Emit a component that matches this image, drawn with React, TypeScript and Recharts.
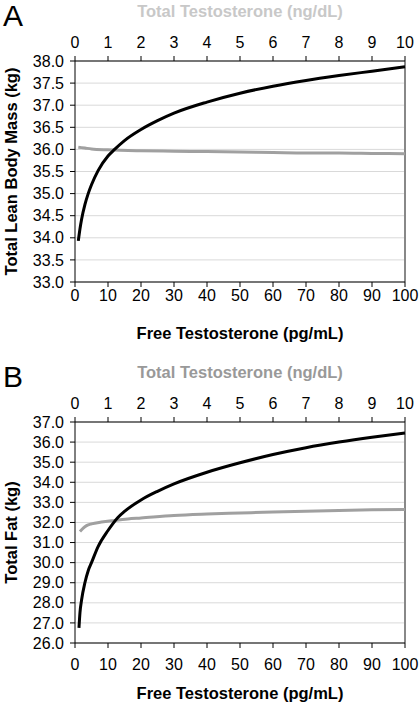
import React from "react";
import {
  LineChart,
  Line,
  XAxis,
  YAxis,
  CartesianGrid,
  ReferenceLine,
} from "recharts";

// Panel A - lean body mass
const leanFreeT = [1, 1.5, 2, 3, 4, 5, 7, 10, 12, 15, 20, 25, 30, 40, 50, 60, 70, 80, 90, 100];
const leanByFreeT = [33.93, 34.2, 34.42, 34.75, 35.0, 35.2, 35.52, 35.85, 36.0, 36.2, 36.45, 36.65, 36.82, 37.07, 37.27, 37.43, 37.56, 37.67, 37.77, 37.87];
const leanTotalT = [0.1, 0.3, 0.5, 1, 2, 3, 4, 5, 6, 7, 8, 9, 10];
const leanByTotalT = [36.05, 36.03, 36.01, 35.99, 35.97, 35.96, 35.95, 35.94, 35.93, 35.92, 35.92, 35.91, 35.9];

// Panel B - total fat
const fatFreeT = [1.2, 1.5, 2, 3, 4, 5, 7, 10, 13, 15, 20, 25, 30, 40, 50, 60, 70, 80, 90, 100];
const fatByFreeT = [26.75, 27.5, 28.15, 29.0, 29.6, 30.0, 30.8, 31.6, 32.25, 32.55, 33.12, 33.55, 33.92, 34.5, 34.97, 35.38, 35.72, 36.0, 36.24, 36.45];
const fatTotalT = [0.15, 0.25, 0.35, 0.5, 0.8, 1.2, 1.6, 2, 3, 4, 5, 6, 7, 8, 9, 10];
const fatByTotalT = [31.55, 31.72, 31.84, 31.93, 32.02, 32.1, 32.17, 32.22, 32.35, 32.42, 32.47, 32.52, 32.56, 32.6, 32.63, 32.65];

const freeTicks = [0, 10, 20, 30, 40, 50, 60, 70, 80, 90, 100];
const totalTicks = [0, 1, 2, 3, 4, 5, 6, 7, 8, 9, 10];
const leanTicks = [33, 33.5, 34, 34.5, 35, 35.5, 36, 36.5, 37, 37.5, 38];
const fatTicks = [26, 27, 28, 29, 30, 31, 32, 33, 34, 35, 36, 37];

const zip = (xs: number[], ys: number[]) => xs.map((x, i) => ({ x, y: ys[i] }));

const font = "Arial, 'Liberation Sans', sans-serif";
const tickStyle = { fill: "#000", fontSize: 16, fontFamily: font };

const Panel = ({ letter, black, grey, yDomain, yTicks, yLabel, topColor, bottomMargin, titleOffset }) => (
  <div style={{ position: "relative", width: 420, height: 350 }}>
    <div
      style={{
        position: "absolute",
        left: 3,
        top: 1,
        fontSize: 30,
        lineHeight: "30px",
        fontFamily: font,
      }}
    >
      {letter}
    </div>
    <LineChart width={420} height={350} margin={{ top: 31, right: 15, bottom: 38, left: 30 }}>
      <CartesianGrid xAxisId="free" vertical={false} stroke="#d9d9d9" />
      <XAxis
        xAxisId="free"
        type="number"
        dataKey="x"
        domain={[0, 100]}
        ticks={freeTicks}
        interval={0}
        height={30}
        tickSize={5}
        tickMargin={bottomMargin}
        stroke="#000"
        tick={tickStyle}
        label={{
          value: "Free Testosterone (pg/mL)",
          position: "bottom",
          offset: titleOffset,
          style: { fill: "#000", fontWeight: "bold", fontSize: 16.5, fontFamily: font },
        }}
      />
      <XAxis
        xAxisId="total"
        orientation="top"
        type="number"
        dataKey="x"
        domain={[0, 10]}
        ticks={totalTicks}
        interval={0}
        height={30}
        tickSize={5}
        tickMargin={8}
        stroke="#000"
        tick={tickStyle}
        label={{
          value: "Total Testosterone (ng/dL)",
          position: "top",
          offset: 14,
          style: { fill: topColor, fontWeight: "bold", fontSize: 16.5, fontFamily: font },
        }}
      />
      <YAxis
        type="number"
        domain={yDomain}
        ticks={yTicks}
        interval={0}
        width={45}
        tickSize={5}
        tickMargin={6}
        stroke="#000"
        tick={tickStyle}
        tickFormatter={(v) => v.toFixed(1)}
        label={{
          value: yLabel,
          angle: -90,
          position: "insideLeft",
          offset: -19,
          style: { textAnchor: "middle", fill: "#000", fontWeight: "bold", fontSize: 16.5, fontFamily: font },
        }}
      />
      <ReferenceLine xAxisId="free" x={100} stroke="#888" strokeWidth={2} />
      <Line
        xAxisId="total"
        data={grey}
        dataKey="y"
        type="monotone"
        stroke="#a0a0a0"
        strokeWidth={3}
        dot={false}
        isAnimationActive={false}
      />
      <Line
        xAxisId="free"
        data={black}
        dataKey="y"
        type="monotone"
        stroke="#000"
        strokeWidth={3}
        dot={false}
        isAnimationActive={false}
      />
    </LineChart>
  </div>
);

export default function App() {
  return (
    <div style={{ position: "absolute", left: 0, top: 0, width: 420, height: 703, background: "#fff" }}>
      <Panel
        letter="A"
        black={zip(leanFreeT, leanByFreeT)}
        grey={zip(leanTotalT, leanByTotalT)}
        yDomain={[33, 38]}
        yTicks={leanTicks}
        yLabel="Total Lean Body Mass (kg)"
        topColor="#c8c8c8"
        bottomMargin={3}
        titleOffset={15}
      />
      <div style={{ height: 11 }} />
      <Panel
        letter="B"
        black={zip(fatFreeT, fatByFreeT)}
        grey={zip(fatTotalT, fatByTotalT)}
        yDomain={[26, 37]}
        yTicks={fatTicks}
        yLabel="Total Fat (kg)"
        topColor="#999999"
        bottomMargin={11}
        titleOffset={14}
      />
    </div>
  );
}
